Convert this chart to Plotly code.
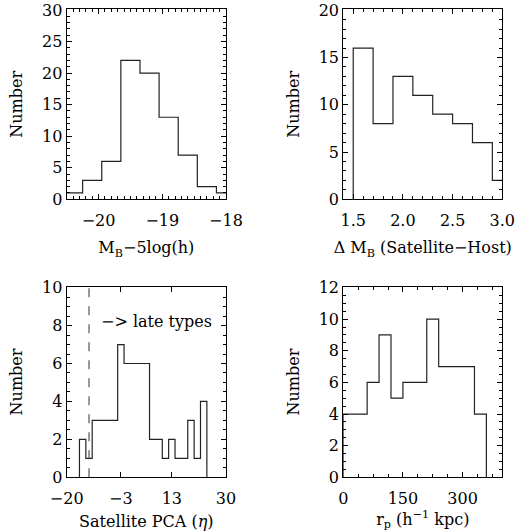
import plotly.graph_objects as go

# panel 1: host luminosity
mag_edges = [-20.55, -20.25, -19.95, -19.65, -19.35, -19.05, -18.75, -18.45, -18.15, -17.85]
mag_counts = [1, 3, 6, 22, 20, 13, 7, 2, 1]

# panel 2: magnitude gap satellite - host
dmag_edges = [1.5, 1.7, 1.9, 2.1, 2.3, 2.5, 2.7, 2.9, 3.1]
dmag_counts = [16, 8, 13, 11, 9, 8, 6, 2]

# panel 3: satellite PCA eta
eta_edges = [-16, -14, -12, -10, -8, -6, -4, -2, 0, 2, 4, 6, 8, 10, 12, 14, 16, 18, 20, 22, 24]
eta_counts = [2, 1, 3, 3, 3, 3, 7, 6, 6, 6, 6, 2, 2, 1, 2, 1, 1, 3, 1, 4]
eta_cut = -13
eta_ticks = [-20, -3, 13, 30]
eta_ticktext = ["\u221220", "\u22123", "13", "30"]

# panel 4: projected separation
rp_edges = [0, 30, 60, 90, 120, 150, 180, 210, 240, 270, 300, 330, 360]
rp_counts = [4, 4, 6, 9, 5, 6, 6, 10, 7, 7, 7, 4]

FONT = "DejaVu Serif"
LINE = "#222222"


def steps(edges, counts):
    xs, ys = [edges[0]], [0]
    for i, c in enumerate(counts):
        xs += [edges[i], edges[i + 1]]
        ys += [c, c]
    xs.append(edges[-1])
    ys.append(0)
    return xs, ys


fig = go.Figure()

panels = [
    (mag_edges, mag_counts, "x", "y"),
    (dmag_edges, dmag_counts, "x2", "y2"),
    (eta_edges, eta_counts, "x3", "y3"),
    (rp_edges, rp_counts, "x4", "y4"),
]
for edges, counts, xa, ya in panels:
    xs, ys = steps(edges, counts)
    fig.add_trace(go.Scatter(x=xs, y=ys, mode="lines", xaxis=xa, yaxis=ya,
                             line=dict(color=LINE, width=1.2), showlegend=False))

# dividing line for late types
fig.add_trace(go.Scatter(x=[eta_cut, eta_cut], y=[0, 10], mode="lines", xaxis="x3", yaxis="y3",
                         line=dict(color="#444444", width=1.1, dash="dash"), showlegend=False))

fig.add_annotation(x=-9.8, y=8.2, xref="x3", yref="y3", text="\u2212> late types",
                   showarrow=False, xanchor="left", yanchor="middle",
                   font=dict(family=FONT, size=16, color="black"))


def ax(dom, rng, title, **kw):
    d = dict(domain=dom, range=rng, showgrid=False, zeroline=False, automargin=False,
             showline=True, linecolor="black", linewidth=1.2, mirror="allticks",
             ticks="inside", ticklen=5, tickwidth=1, tickcolor="black",
             ticklabeloverflow="allow",
             tickfont=dict(family=FONT, size=16, color="black"),
             title=dict(text=title, font=dict(family=FONT, size=16, color="black")))
    d.update(kw)
    return d


def minor(step, n=3):
    return dict(dtick=step, ticklen=n, tickwidth=1, tickcolor="black", ticks="inside", showgrid=False)


xl = [0.1266, 0.4288]
xr = [0.6514, 0.9531]
yt = [0.6247, 0.9825]
yb = [0.1011, 0.4601]

fig.update_layout(
    width=527, height=531,
    margin=dict(l=0, r=0, t=0, b=0),
    plot_bgcolor="white", paper_bgcolor="white",
    xaxis=ax(xl, [-20.5, -18], "M<sub>B</sub>\u22125log(h)", anchor="y", dtick=1,
             minor=minor(0.1), title_standoff=13, ticklabelstandoff=6),
    yaxis=ax(yt, [0, 30.1], "Number", anchor="x", dtick=5, minor=minor(1), title_standoff=15),
    xaxis2=ax(xr, [1.4, 3.0], "\u0394 M<sub>B</sub> (Satellite\u2212Host)", anchor="y2", dtick=0.5,
              tick0=1.5, tickformat=".1f", minor=minor(0.1), title_standoff=13, ticklabelstandoff=6),
    yaxis2=ax(yt, [0, 20.1], "Number", anchor="x2", dtick=5, minor=minor(1), title_standoff=15),
    xaxis3=ax(xl, [-20, 30], "Satellite PCA (<i>\u03b7</i>)", anchor="y3",
              tickmode="array", tickvals=eta_ticks, ticktext=eta_ticktext, title_standoff=13,
              ticklabelstandoff=6),
    yaxis3=ax(yb, [0, 10.05], "Number", anchor="x3", dtick=2, minor=minor(0.5), title_standoff=15),
    xaxis4=ax(xr, [0, 400], "r<sub>p</sub> (h<sup>\u22121</sup> kpc)", anchor="y4", dtick=150,
              minor=minor(37.5), title_standoff=13, ticklabelstandoff=6),
    yaxis4=ax(yb, [0, 12.05], "Number", anchor="x4", dtick=2, minor=minor(0.5), title_standoff=15),
)

# drop the default 8px body margin so the figure fills the window
fig.write_html("out.html", config={"displayModeBar": False},
               post_script="document.body.style.margin='0';")
